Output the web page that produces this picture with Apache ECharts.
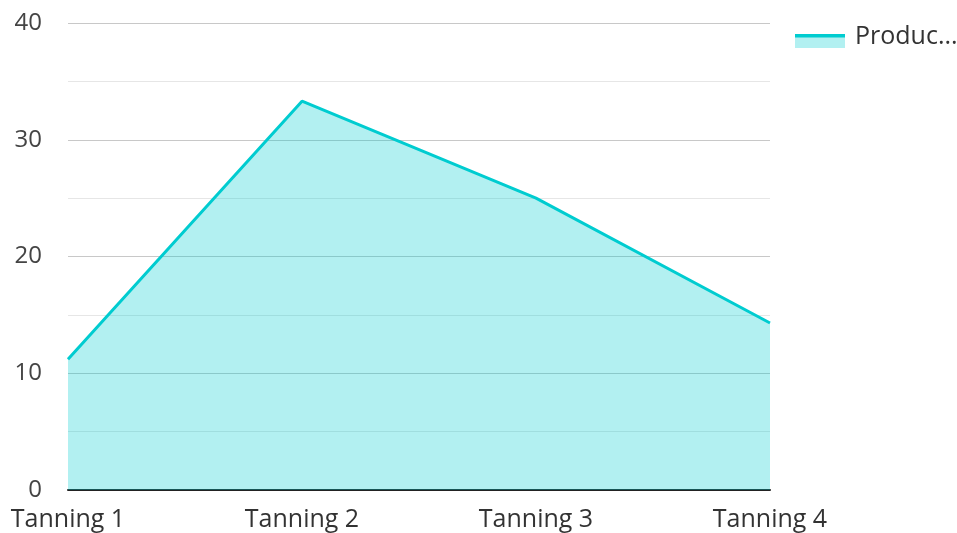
<!DOCTYPE html>
<html>
<head>
<meta charset="utf-8">
<script src="https://cdn.jsdelivr.net/npm/echarts@6/dist/echarts.min.js"></script>
<style>
  html, body { margin: 0; padding: 0; background: #fff; }
  #chart { width: 957px; height: 533px; }
</style>
</head>
<body>
<div id="chart"></div>
<script>
// chart data
const categories = ['Tanning 1', 'Tanning 2', 'Tanning 3', 'Tanning 4']
const seriesName = 'Production'
const values = [11.2, 33.3, 25.0, 14.3]

const lineColor = '#00ccd0'
const fillColor = 'rgba(0, 204, 208, 0.3)'

// legend icon sits a bit below the text, so the icon paths keep an empty band on top
const legendBase = {
  data: [seriesName],
  left: 795,
  top: 24,
  padding: 0,
  itemWidth: 50,
  itemHeight: 23,
  itemStyle: { borderWidth: 0 }
}
const legendText = {
  fontSize: 25,
  width: 110,
  overflow: 'truncate',
  ellipsis: '...',
  padding: [0, 0, 0, 5]
}

const myChart = echarts.init(document.getElementById('chart'))
const option = {
  textStyle: { fontFamily: 'Open Sans' },
  grid: {
    left: 68,
    right: 187,
    top: 23,
    bottom: 43
  },
  legend: [
    // filled box + name
    Object.assign({}, legendBase, {
      icon: 'path://M0,-9L50,-9 M0,3H50V14H0Z',
      itemStyle: { color: fillColor, borderWidth: 0 },
      textStyle: Object.assign({ color: '#333' }, legendText)
    }),
    // line strip on top of the box
    Object.assign({}, legendBase, {
      icon: 'path://M0,-9L50,-9 M0,0H50V3.5H0Z M0,14L50,14',
      itemStyle: { color: lineColor, borderWidth: 0 },
      textStyle: Object.assign({ color: 'rgba(0,0,0,0)' }, legendText)
    })
  ],
  xAxis: {
    type: 'category',
    data: categories,
    boundaryGap: false,
    axisLine: { show: true, lineStyle: { color: '#222', width: 2 } },
    axisTick: { show: false },
    axisLabel: { color: '#333', fontSize: 25, margin: 17 },
    splitLine: { show: false }
  },
  yAxis: {
    type: 'value',
    min: 0,
    max: 40,
    interval: 10,
    axisLine: { show: false },
    axisTick: { show: false },
    axisLabel: { color: '#444', fontSize: 24, margin: 26 },
    splitLine: { show: true, lineStyle: { color: '#c8c8c8', width: 1 } },
    minorTick: { show: false, splitNumber: 2 },
    minorSplitLine: { show: true, lineStyle: { color: '#e6e6e6', width: 1 } }
  },
  series: [{
    name: seriesName,
    type: 'line',
    data: values,
    symbol: 'none',
    lineStyle: { color: lineColor, width: 3 },
    itemStyle: { color: lineColor },
    areaStyle: { color: fillColor, opacity: 1 },
    z: 1
  }]
}
myChart.setOption(option)
</script>
</body>
</html>
